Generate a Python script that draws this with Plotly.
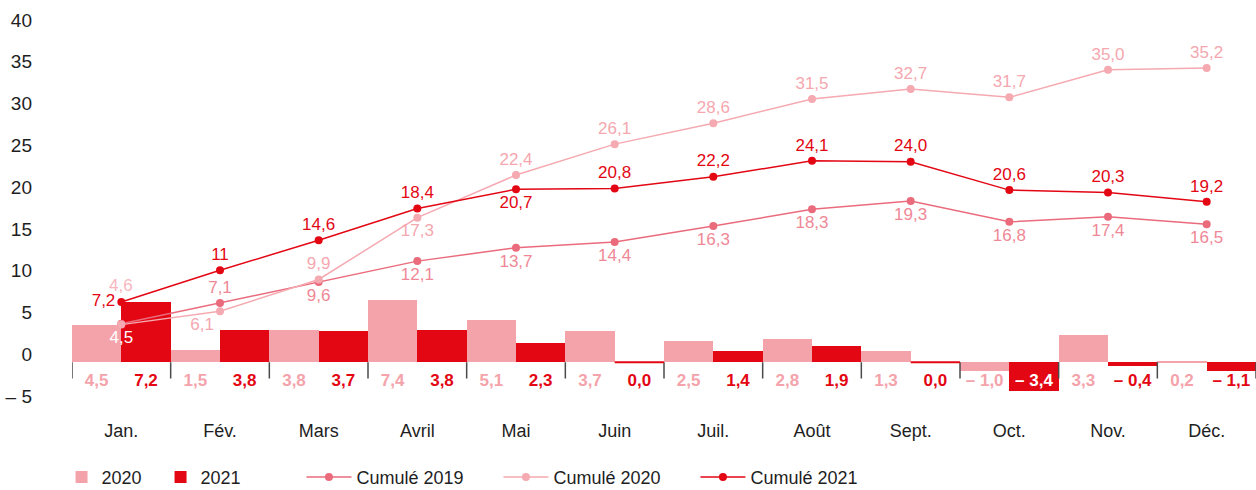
import plotly.graph_objects as go

months = ["Jan.", "Fév.", "Mars", "Avril", "Mai", "Juin", "Juil.", "Août", "Sept.", "Oct.", "Nov.", "Déc."]
monthly_2020 = [4.5, 1.5, 3.8, 7.4, 5.1, 3.7, 2.5, 2.8, 1.3, -1.0, 3.3, 0.2]
monthly_2021 = [7.2, 3.8, 3.7, 3.8, 2.3, 0.0, 1.4, 1.9, 0.0, -3.4, -0.4, -1.1]
cumul_2019 = [4.6, 7.1, 9.6, 12.1, 13.7, 14.4, 16.3, 18.3, 19.3, 16.8, 17.4, 16.5]
cumul_2020 = [4.5, 6.1, 9.9, 17.3, 22.4, 26.1, 28.6, 31.5, 32.7, 31.7, 35.0, 35.2]
cumul_2021 = [7.2, 11.0, 14.6, 18.4, 20.7, 20.8, 22.2, 24.1, 24.0, 20.6, 20.3, 19.2]
y_ticks = [-5, 0, 5, 10, 15, 20, 25, 30, 35, 40]

# label placement per point (style)
pos_2019 = ["top center", "top center"] + ["bottom center"] * 10
pos_2020 = ["bottom center", "bottom left", "top center", "bottom center"] + ["top center"] * 8
pos_2021 = ["middle left", "top center", "top center", "top center", "bottom center"] + ["top center"] * 7

C_2020 = "#f4a3ab"
C_2021 = "#e30613"
C_L2019 = "#ea6b7c"
C_T2019 = "#ef8896"
C_L2020 = "#f5a9b1"
C_T2020 = "#f5a7af"
DARK = "#1e1e1e"
FONT = "Liberation Sans, Arial, sans-serif"
FS = 17
FS_AX = 18
FS_Y = 19


def fr(v, integer_ok=False):
    if integer_ok and float(v).is_integer():
        s = str(int(v))
    else:
        s = f"{abs(v):.1f}".replace(".", ",")
        if v < 0:
            s = "– " + s
    return s


def tick_txt(v):
    return ("– " + str(abs(v))) if v < 0 else str(v)


n = len(months)
xs = list(range(n))
LABEL_ROW_Y = -2.35

fig = go.Figure()

fig.add_trace(go.Bar(x=[i - 0.25 for i in xs], y=monthly_2020, width=0.5, name="2020",
                     marker=dict(color=C_2020, line=dict(width=0)), legend="legend"))
fig.add_trace(go.Bar(x=[i + 0.25 for i in xs], y=monthly_2021, width=0.5, name="2021",
                     marker=dict(color=C_2021, line=dict(width=0)), legend="legend"))

# monthly value labels row
lab20_col = [C_2020 for v in monthly_2020]
lab21_col = ["#ffffff" if v < -2.5 else C_2021 for v in monthly_2021]
fig.add_trace(go.Scatter(x=[i - 0.25 for i in xs], y=[LABEL_ROW_Y] * n, mode="text",
                         text=[fr(v) for v in monthly_2020], showlegend=False, cliponaxis=False,
                         textfont=dict(family=FONT, size=FS, color=lab20_col, weight="bold")))
fig.add_trace(go.Scatter(x=[i + 0.25 for i in xs], y=[LABEL_ROW_Y] * n, mode="text",
                         text=[fr(v) for v in monthly_2021], showlegend=False, cliponaxis=False,
                         textfont=dict(family=FONT, size=FS, color=lab21_col, weight="bold")))

# cumulative lines
t2019 = [fr(v) for v in cumul_2019]
t2019[0] = ""
fig.add_trace(go.Scatter(x=xs, y=cumul_2019, mode="lines+markers+text", name="Cumulé 2019",
                         line=dict(color=C_L2019, width=1.5), marker=dict(size=8, color=C_L2019),
                         text=t2019, textposition=pos_2019, cliponaxis=False,
                         textfont=dict(family=FONT, size=FS, color=C_T2019), legend="legend2"))
t2020_col = [C_T2020] * n
t2020_col[0] = "#ffffff"
fig.add_trace(go.Scatter(x=xs, y=cumul_2020, mode="lines+markers+text", name="Cumulé 2020",
                         line=dict(color=C_L2020, width=1.5), marker=dict(size=8, color=C_L2020),
                         text=[fr(v) for v in cumul_2020], textposition=pos_2020, cliponaxis=False,
                         textfont=dict(family=FONT, size=FS, color=t2020_col), legend="legend2"))
fig.add_trace(go.Scatter(x=xs, y=cumul_2021, mode="lines+markers+text", name="Cumulé 2021",
                         line=dict(color=C_2021, width=1.5), marker=dict(size=8, color=C_2021),
                         text=[fr(v, integer_ok=(i == 1)) for i, v in enumerate(cumul_2021)],
                         textposition=pos_2021, cliponaxis=False,
                         textfont=dict(family=FONT, size=FS, color=C_2021), legend="legend2"))

# Jan 2019 label placed higher
fig.add_annotation(x=0, y=cumul_2019[0], text=fr(cumul_2019[0]), showarrow=False, yshift=38,
                   font=dict(family=FONT, size=FS, color="#f7b6be"))

shapes = []
for b in range(n + 1):
    shapes.append(dict(type="line", xref="x", yref="y", x0=b - 0.5, x1=b - 0.5, y0=0, y1=-1.95,
                       line=dict(color="#4a4a4a", width=1.5)))
for i, v in enumerate(monthly_2021):
    if v == 0:
        shapes.append(dict(type="line", xref="x", yref="y", x0=i, x1=i + 0.5, y0=0, y1=0,
                           line=dict(color=C_2021, width=2)))

fig.update_layout(
    width=1256, height=490,
    margin=dict(l=72, r=0, t=28, b=86, autoexpand=False),
    paper_bgcolor="white", plot_bgcolor="white",
    barmode="overlay", bargap=0,
    shapes=shapes,
    font=dict(family=FONT, size=FS, color=DARK),
    xaxis=dict(range=[-0.5, n - 0.5], tickvals=xs, ticktext=months, showgrid=False,
               zeroline=False, showline=False, ticks="", ticklabelstandoff=14, automargin=False,
               tickfont=dict(family=FONT, size=FS_AX, color=DARK), fixedrange=True),
    yaxis=dict(range=[-5, 40], tickvals=y_ticks, ticktext=[tick_txt(v) for v in y_ticks],
               showgrid=False, zeroline=False, showline=False, ticks="", automargin=False,
               ticklabelstandoff=39, ticklabelshift=-8,
               tickfont=dict(family=FONT, size=FS_Y, color=DARK), fixedrange=True),
    legend=dict(orientation="h", xref="container", yref="container", x=0.049, y=0.026,
                xanchor="left", yanchor="middle", entrywidth=54, entrywidthmode="pixels",
                font=dict(family=FONT, size=FS_AX, color=DARK), bgcolor="rgba(0,0,0,0)",
                traceorder="normal"),
    legend2=dict(orientation="h", xref="container", yref="container", x=0.240, y=0.026,
                 xanchor="left", yanchor="middle", entrywidth=137, entrywidthmode="pixels",
                 itemwidth=45,
                 font=dict(family=FONT, size=FS_AX, color=DARK), bgcolor="rgba(0,0,0,0)",
                 traceorder="normal"),
    showlegend=True,
)

fig.write_html("out.html", post_script="document.body.style.margin='0px';",
               config={"displayModeBar": False})
